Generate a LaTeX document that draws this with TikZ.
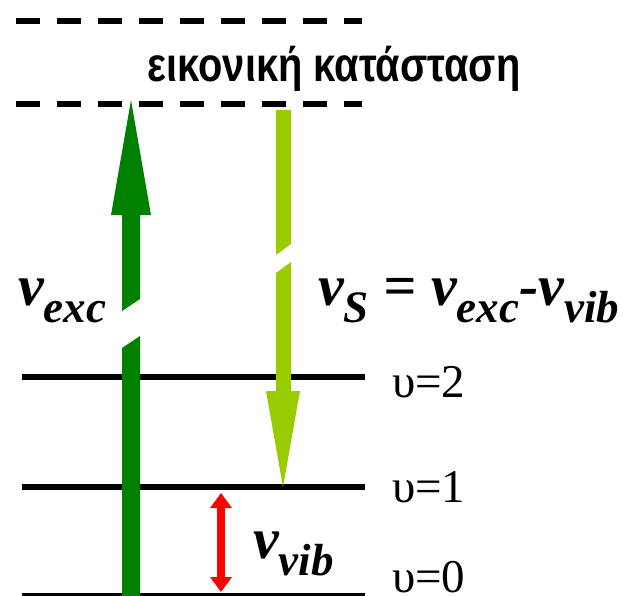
\documentclass[tikz,border=0pt]{standalone}
\usepackage{fontspec}
\setmainfont{Liberation Serif}
\newfontfamily\titlefont{Liberation Sans}
\usepackage{graphicx}
\usepackage{xcolor}
\usetikzlibrary{arrows.meta}

\definecolor{excgreen}{RGB}{0,128,0}
\definecolor{stokesgreen}{RGB}{153,204,0}
\newcommand{\freqsub}[1]{\raisebox{-17pt}{\fontsize{45}{45}\selectfont #1}}

\begin{document}
\begin{tikzpicture}[
  x=1pt, y=-1pt,
  level/.style    = {line width=6pt},
  virtual/.style  = {line width=6pt, dash pattern=on 24pt off 17pt},
  lvllabel/.style = {anchor=base west, inner sep=0pt, text depth=0pt, font=\fontsize{47}{47}\selectfont},
  freq/.style     = {anchor=base west, inner sep=0pt, font=\fontsize{58}{58}\selectfont\bfseries\itshape},
  vibarr/.style   = {draw=red, line width=8pt,
                     {Triangle[length=15pt, width=21pt]}-{Triangle[length=15pt, width=21pt]}},
]
\useasboundingbox (0,0) rectangle (623,596);

% ── virtual state ────────────────────────────────────────────────────────────
\coordinate (virtL1) at (16,21);  \coordinate (virtR1) at (362,21);
\coordinate (virtL2) at (16,104); \coordinate (virtR2) at (362,104);
\draw[virtual] (virtL1) -- (virtR1);
\draw[virtual] (virtL2) -- (virtR2);
\node[anchor=base, inner sep=0pt, font=\titlefont\bfseries\fontsize{48}{48}\selectfont]
  (title) at (334,82) {\scalebox{0.83}[1]{εικονική κατάσταση}};

% ── vibrational levels ──────────────────────────────────────────────────────
\coordinate (lv2L) at (22,377); \coordinate (lv2R) at (365,377);
\coordinate (lv1L) at (22,487); \coordinate (lv1R) at (365,487);
\coordinate (lv0L) at (22,596); \coordinate (lv0R) at (365,596);
\draw[level] (lv2L) -- (lv2R);
\draw[level] (lv1L) -- (lv1R);
\draw[level] (lv0L) -- (lv0R);
\node[lvllabel] (n2) at (392,397) {υ=2};
\node[lvllabel] (n1) at (392,502) {υ=1};
\node[lvllabel] (n0) at (392,592) {υ=0};

% ── excitation (broken shaft) ───────────────────────────────────────────────
\fill[excgreen] (122,596) -- (140,596) -- (140,336) -- (122,348) -- cycle;
\fill[excgreen] (122,311) -- (140,299) -- (140,215) -- (151,215) -- (131,100)
  -- (111,215) -- (122,215) -- cycle;

% ── Stokes scattering (broken shaft) ────────────────────────────────────────
\fill[stokesgreen] (276,110) -- (291,110) -- (291,244) -- (276,255) -- cycle;
\fill[stokesgreen] (276,273) -- (291,262) -- (291,391) -- (300,391) -- (283,487)
  -- (266,391) -- (276,391) -- cycle;

% ── vibrational quantum ─────────────────────────────────────────────────────
\coordinate (vibtop) at (221,493);
\coordinate (vibbot) at (221,592);
\draw[vibarr] (vibtop) -- (vibbot);

\node[freq] (exc) at (18,305) {v\freqsub{exc}};
\node[freq] (stokes) at (318,305) {v\freqsub{S} = v\freqsub{exc}-v\freqsub{vib}};
\node[freq] (vib) at (253,558) {v\freqsub{vib}};
\end{tikzpicture}
\end{document}
